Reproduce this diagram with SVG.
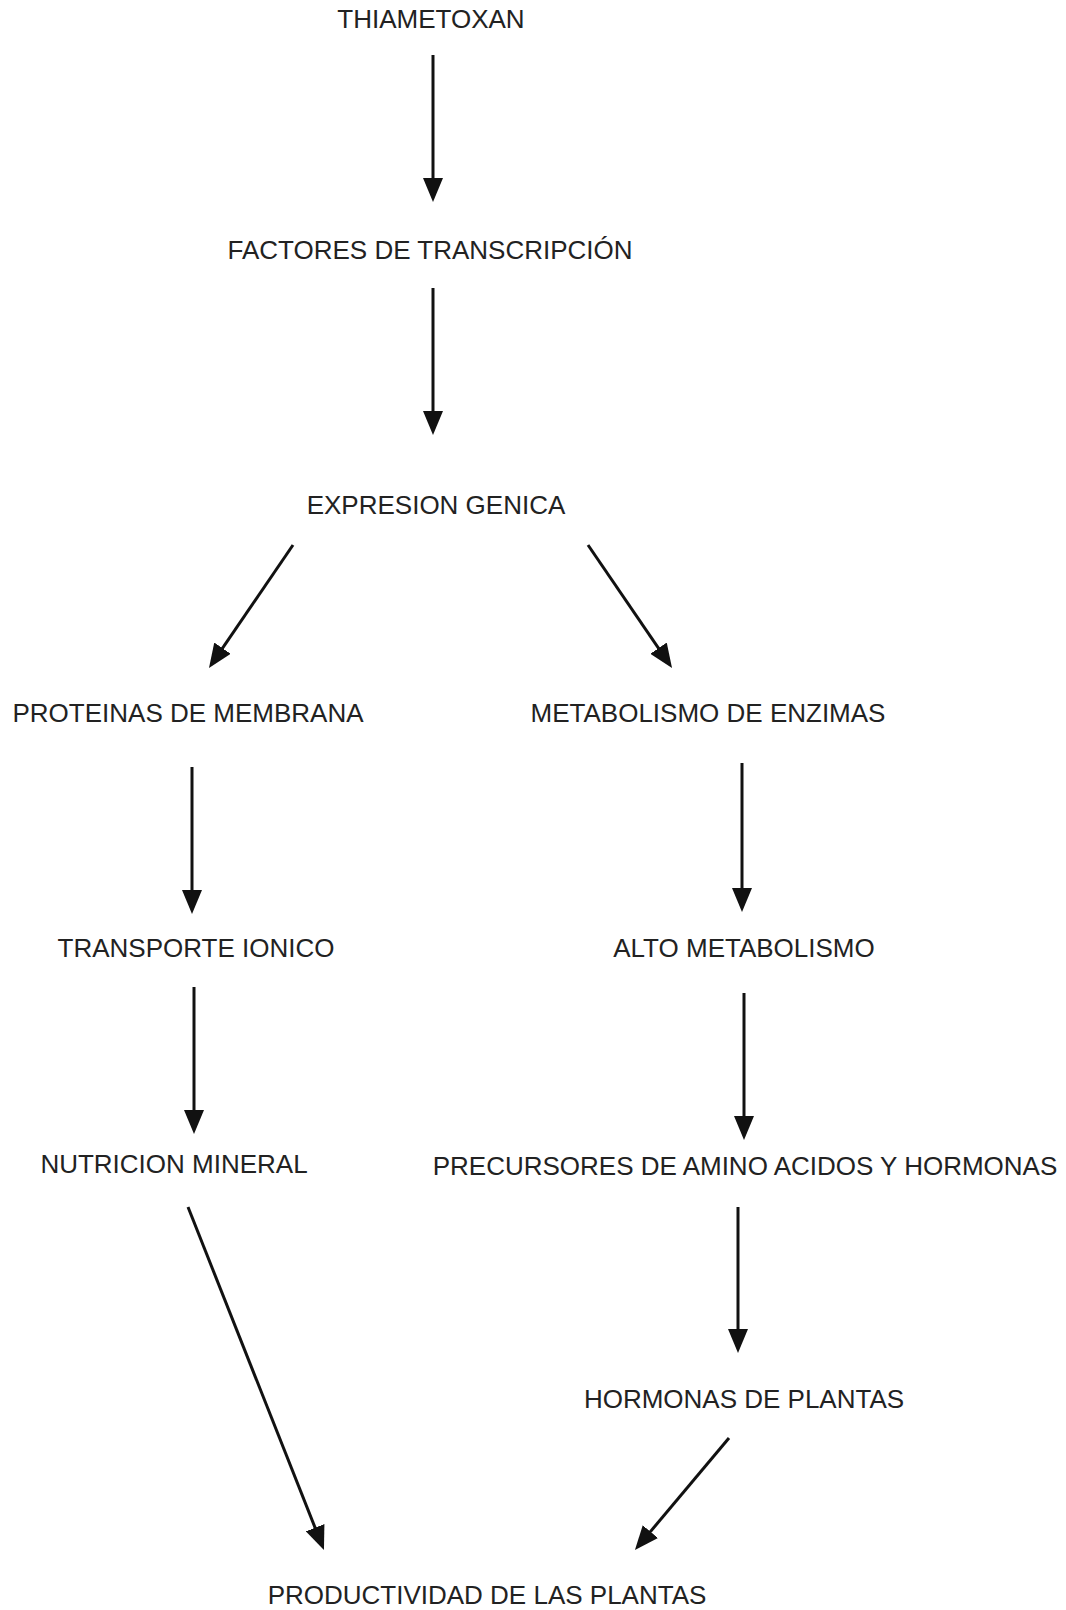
<svg xmlns="http://www.w3.org/2000/svg" width="1066" height="1610" viewBox="0 0 1066 1610">
<style>
.lbl{font-family:"Liberation Sans",Arial,sans-serif;font-size:26px;fill:#222;text-anchor:middle}
.cn{stroke:#111;stroke-width:3;fill:none;marker-end:url(#ah)}
</style>
<defs>
<marker id="ah" viewBox="0 0 24 20" markerWidth="24" markerHeight="20" refX="16" refY="10" markerUnits="userSpaceOnUse" orient="auto">
<path d="M0,0 L24,10 L0,20 z" fill="#111"/>
</marker>
</defs>
<rect width="1066" height="1610" fill="#fff"/>
<g id="connectors">
<line class="cn" x1="433" y1="55" x2="433" y2="194"/>
<line class="cn" x1="433" y1="288" x2="433" y2="427"/>
<line class="cn" x1="293" y1="545" x2="213.5" y2="661.4"/>
<line class="cn" x1="588" y1="545" x2="667.5" y2="661.4"/>
<line class="cn" x1="192" y1="767" x2="192" y2="906"/>
<line class="cn" x1="742" y1="763" x2="742" y2="904"/>
<line class="cn" x1="194" y1="987" x2="194" y2="1126"/>
<line class="cn" x1="744" y1="993" x2="744" y2="1132"/>
<line class="cn" x1="188" y1="1207" x2="321" y2="1542.6"/>
<line class="cn" x1="738" y1="1207" x2="738" y2="1345"/>
<line class="cn" x1="729" y1="1438" x2="640.1" y2="1543.9"/>
</g>
<g id="n-thiametoxan"><text class="lbl" x="431" y="28">THIAMETOXAN</text></g>
<g id="n-factores"><text class="lbl" x="430" y="259">FACTORES DE TRANSCRIPCIÓN</text></g>
<g id="n-expresion"><text class="lbl" x="436" y="514">EXPRESION GENICA</text></g>
<g id="n-proteinas"><text class="lbl" x="188" y="722">PROTEINAS DE MEMBRANA</text></g>
<g id="n-metabolismo"><text class="lbl" x="708" y="722">METABOLISMO DE ENZIMAS</text></g>
<g id="n-transporte"><text class="lbl" x="196" y="957">TRANSPORTE IONICO</text></g>
<g id="n-alto"><text class="lbl" x="744" y="957">ALTO METABOLISMO</text></g>
<g id="n-nutricion"><text class="lbl" x="174" y="1173">NUTRICION MINERAL</text></g>
<g id="n-precursores"><text class="lbl" x="745" y="1175">PRECURSORES DE AMINO ACIDOS Y HORMONAS</text></g>
<g id="n-hormonas"><text class="lbl" x="744" y="1408">HORMONAS DE PLANTAS</text></g>
<g id="n-productividad"><text class="lbl" x="487" y="1604">PRODUCTIVIDAD DE LAS PLANTAS</text></g>
</svg>
